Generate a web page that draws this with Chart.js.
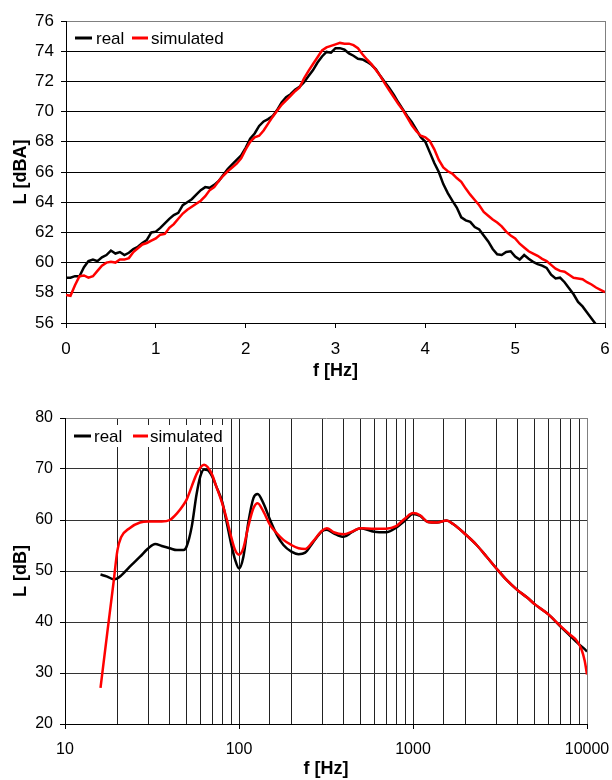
<!DOCTYPE html>
<html>
<head>
<meta charset="utf-8">
<script src="https://cdn.jsdelivr.net/npm/chart.js@4/dist/chart.umd.min.js"></script>
<style>
  html, body { margin: 0; padding: 0; background: #fff; }
  #wrap { position: relative; width: 612px; height: 780px; }
  canvas { position: absolute; left: 0; }
</style>
</head>
<body>
<div id="wrap">
  <canvas id="c1" width="612" height="390" style="top:0"></canvas>
  <canvas id="c2" width="612" height="390" style="top:390px"></canvas>
</div>
<script>
// ---------- Top chart data: level vs. frequency (linear, 0..6 Hz) ----------
const fTop = [0,0.05,0.1,0.15,0.2,0.25,0.3,0.35,0.4,0.45,
  0.5,0.55,0.6,0.65,0.7,0.75,0.8,0.85,0.9,0.95,
  1.0,1.05,1.1,1.15,1.2,1.25,1.3,1.35,1.4,1.45,
  1.5,1.55,1.6,1.65,1.7,1.75,1.8,1.85,1.9,1.95,
  2.0,2.05,2.1,2.15,2.2,2.25,2.3,2.35,2.4,2.45,
  2.5,2.55,2.6,2.65,2.7,2.75,2.8,2.85,2.9,2.95,
  3.0,3.05,3.1,3.15,3.2,3.25,3.3,3.35,3.4,3.45,
  3.5,3.55,3.6,3.65,3.7,3.75,3.8,3.85,3.9,3.95,
  4.0,4.05,4.1,4.15,4.2,4.25,4.3,4.35,4.4,4.45,
  4.5,4.55,4.6,4.65,4.7,4.75,4.8,4.85,4.9,4.95,
  5.0,5.05,5.1,5.15,5.2,5.25,5.3,5.35,5.4,5.45,
  5.5,5.55,5.6,5.65,5.7,5.75,5.8,5.85,5.9,5.95,6.0];
const realTop = [59.0,59.0,59.1,59.1,59.7,60.1,60.2,60.1,60.35,60.5,
  60.8,60.6,60.7,60.5,60.65,60.9,61.05,61.3,61.5,62.0,
  62.05,62.3,62.6,62.9,63.15,63.3,63.8,64.0,64.2,64.5,
  64.8,65.0,64.95,65.15,65.4,65.8,66.2,66.5,66.8,67.1,
  67.6,68.2,68.55,69.05,69.35,69.5,69.7,70.1,70.6,70.95,
  71.15,71.45,71.65,71.95,72.35,72.75,73.25,73.65,73.95,73.9,
  74.2,74.2,74.1,73.85,73.7,73.5,73.45,73.3,73.1,72.8,
  72.35,71.95,71.55,71.1,70.6,70.15,69.7,69.3,68.8,68.3,
  68.0,67.3,66.6,66.0,65.2,64.6,64.1,63.65,63.0,62.8,
  62.7,62.35,62.2,61.8,61.4,60.9,60.55,60.5,60.7,60.75,
  60.4,60.2,60.5,60.25,60.05,59.9,59.8,59.65,59.2,58.95,
  59.0,58.7,58.3,57.9,57.4,57.1,56.7,56.3,55.9,null,null];
const simTop = [57.85,57.8,58.5,59.1,59.15,59.0,59.1,59.45,59.8,60.0,
  60.05,60.0,60.2,60.2,60.3,60.7,60.95,61.2,61.3,61.45,
  61.6,61.85,61.9,62.3,62.55,62.9,63.25,63.5,63.7,63.9,
  64.1,64.4,64.8,65.0,65.4,65.75,66.05,66.3,66.55,66.9,
  67.5,68.0,68.3,68.4,68.75,69.2,69.65,70.05,70.45,70.75,
  71.05,71.35,71.6,72.2,72.7,73.15,73.6,74.05,74.25,74.35,
  74.45,74.55,74.5,74.5,74.4,74.2,73.8,73.45,73.15,72.75,
  72.35,71.85,71.4,70.95,70.5,70.1,69.6,69.1,68.7,68.4,
  68.3,68.05,67.5,66.8,66.3,66.05,65.9,65.6,65.35,64.9,
  64.5,64.15,63.8,63.35,63.1,62.85,62.65,62.4,62.05,61.8,
  61.6,61.25,61.0,60.75,60.6,60.45,60.25,60.1,59.85,59.6,
  59.45,59.4,59.2,59.0,58.95,58.9,58.7,58.55,58.35,58.2,58.05];

// ---------- Bottom chart data: spectrum (log frequency) ----------
const fBot = [16,17.5,19,20,21,23.5,27,30,33,36,40,44,48,50,53.5,57,60,63,66,70,74,80,85,90,95,
  100,106,113,121,128,138,151,165,180,200,220,240,265,300,320,350,400,445,500,600,700,800,900,
  1000,1100,1220,1370,1560,1700,2000,2320,2650,3000,3460,4000,4530,5000,6000,7000,8000,8750,9300,9700,10000];
const realBot = [49.3,48.9,48.4,48.55,49.1,50.8,52.8,54.4,55.3,54.9,54.45,54.1,54.1,54.8,58.7,65.0,68.6,69.9,69.8,68.6,66.6,63.6,59.5,55.4,52.2,
  50.5,52.8,59.4,64.3,65.1,63.3,60.0,57.1,55.1,53.8,53.3,53.6,55.5,57.8,58.1,57.4,56.7,57.6,58.4,57.7,57.6,58.5,59.9,
  61.2,60.8,59.6,59.5,59.9,59.2,57.2,55.1,52.8,50.6,48.2,46.2,44.8,43.5,41.5,39.2,37.3,36.0,35.2,34.7,34.2];
const simBot = [27.1,37.9,47.7,54.0,56.6,58.4,59.5,59.7,59.7,59.7,60.0,61.3,63.0,64.0,66.6,69.0,70.3,70.85,70.4,68.9,66.6,63.3,60.2,56.8,54.1,
  53.2,54.5,58.7,62.3,63.3,61.7,59.0,57.4,56.1,55.1,54.45,54.3,55.7,57.9,58.4,57.6,57.2,57.7,58.4,58.3,58.3,58.8,60.3,
  61.35,60.9,59.6,59.5,59.9,59.2,57.2,55.1,52.8,50.6,48.2,46.2,44.8,43.5,41.5,39.3,37.5,36.3,34.6,32.4,29.7];

const seriesNames = ['real', 'simulated'];
const seriesColors = ['#000000', '#ff0000'];
const topYTicks = [56, 76];
const botXMajor = [10, 100, 1000, 10000];

const FONT = "'Liberation Sans', Arial, sans-serif";

const legendPlugin = {
  id: 'boxLegend',
  beforeDatasetsDraw(chart, args, o) {
    const ctx = chart.ctx;
    ctx.save();
    if (o.box) {
      ctx.fillStyle = '#fff';
      ctx.fillRect(o.box[0], o.box[1], o.box[2], o.box[3]);
    }
    ctx.font = o.fontSize + 'px ' + FONT;
    ctx.textBaseline = 'middle';
    ctx.textAlign = 'left';
    const ds = chart.data.datasets;
    const order = seriesNames.map(n => ds.find(d => d.label === n));
    order.forEach((d, i) => {
      const it = o.items[i];
      ctx.strokeStyle = d.borderColor;
      ctx.lineWidth = 3;
      ctx.beginPath();
      ctx.moveTo(it[0], o.y);
      ctx.lineTo(it[1], o.y);
      ctx.stroke();
      ctx.fillStyle = '#000';
      ctx.fillText(d.label, it[2], o.y + 1);
    });
    ctx.restore();
  }
};

// ---------------- Top chart ----------------
new Chart(document.getElementById('c1'), {
  type: 'line',
  data: {
    datasets: [
      { label: seriesNames[1], data: fTop.map((f, i) => ({x: f, y: simTop[i]})),
        borderColor: seriesColors[1], borderWidth: 2.5, pointRadius: 0, tension: 0, order: 0 },
      { label: seriesNames[0], data: fTop.map((f, i) => ({x: f, y: realTop[i]})),
        borderColor: seriesColors[0], borderWidth: 2.5, pointRadius: 0, tension: 0, order: 1 }
    ]
  },
  options: {
    responsive: false, animation: false, devicePixelRatio: 1,
    layout: { padding: { top: 21, right: 7, left: 0, bottom: 0 } },
    plugins: {
      legend: { display: false }, tooltip: { enabled: false },
      boxLegend: { y: 38, fontSize: 17, items: [[75, 92, 96], [132, 148, 151]] }
    },
    scales: {
      x: {
        type: 'linear', min: 0, max: 6,
        afterFit: s => { s.height = 390 - 323; s.paddingLeft = 0; s.paddingRight = 0; },
        ticks: { stepSize: 1, color: '#000', padding: 11, maxRotation: 0,
                 font: { family: FONT, size: 17 } },
        grid: { drawOnChartArea: true, tickLength: 5,
                color: c => (c.tick && c.tick.value === 6) ? '#808080' : 'rgba(0,0,0,0)',
                tickColor: '#000' },
        border: { color: '#000', width: 1 },
        title: { display: true, text: 'f [Hz]', color: '#000',
                 font: { family: FONT, size: 18, weight: 'bold' }, padding: { top: 0, bottom: 8 } }
      },
      y: {
        min: topYTicks[0], max: topYTicks[1],
        afterFit: s => { s.width = 66; s.paddingTop = 0; s.paddingBottom = 0; },
        ticks: { stepSize: 2, color: '#000', padding: 7, font: { family: FONT, size: 17 } },
        grid: { tickLength: 5,
                color: c => (c.tick && c.tick.value === 76) ? '#808080' : '#000',
                tickColor: '#000' },
        border: { color: '#000', width: 1 },
        title: { display: true, text: 'L [dBA]', color: '#000',
                 font: { family: FONT, size: 18, weight: 'bold' }, padding: { top: 10, bottom: 0 } }
      }
    }
  },
  plugins: [legendPlugin]
});

// ---------------- Bottom chart ----------------
new Chart(document.getElementById('c2'), {
  type: 'line',
  data: {
    datasets: [
      { label: seriesNames[1], data: fBot.map((f, i) => ({x: f, y: simBot[i]})),
        borderColor: seriesColors[1], borderWidth: 2.5, pointRadius: 0,
        cubicInterpolationMode: 'monotone', order: 0 },
      { label: seriesNames[0], data: fBot.map((f, i) => ({x: f, y: realBot[i]})),
        borderColor: seriesColors[0], borderWidth: 2.5, pointRadius: 0,
        cubicInterpolationMode: 'monotone', order: 1 }
    ]
  },
  options: {
    responsive: false, animation: false, devicePixelRatio: 1,
    layout: { padding: { top: 28, right: 25, left: 0, bottom: 0 } },
    plugins: {
      legend: { display: false }, tooltip: { enabled: false },
      boxLegend: { y: 46, fontSize: 17, box: [67, 35, 156, 22], items: [[74, 91, 94], [133, 148, 150]] }
    },
    scales: {
      x: {
        type: 'logarithmic', min: 10, max: 10000,
        afterFit: s => { s.height = 390 - 334; s.paddingLeft = 0; s.paddingRight = 0; },
        ticks: { autoSkip: false, maxRotation: 0, color: '#000', padding: 11,
                 font: { family: FONT, size: 16 },
                 callback: v => botXMajor.includes(v) ? String(v) : '' },
        grid: { tickLength: 5,
                color: c => (c.tick && c.tick.value === 10000) ? '#808080' : '#222',
                tickColor: c => (c.tick && botXMajor.includes(c.tick.value)) ? '#000' : 'rgba(0,0,0,0)' },
        border: { color: '#000', width: 1 },
        title: { display: true, text: 'f [Hz]', color: '#000',
                 font: { family: FONT, size: 18, weight: 'bold' }, padding: { top: 0, bottom: 0 } }
      },
      y: {
        min: 20, max: 80,
        afterFit: s => { s.width = 65; s.paddingTop = 0; s.paddingBottom = 0; },
        ticks: { stepSize: 10, color: '#000', padding: 7, font: { family: FONT, size: 16 } },
        grid: { tickLength: 5,
                color: c => (c.tick && c.tick.value === 80) ? '#808080' : '#333',
                tickColor: '#000' },
        border: { color: '#000', width: 1 },
        title: { display: true, text: 'L [dB]', color: '#000',
                 font: { family: FONT, size: 18, weight: 'bold' }, padding: { top: 10, bottom: 0 } }
      }
    }
  },
  plugins: [legendPlugin]
});
</script>
</body>
</html>
